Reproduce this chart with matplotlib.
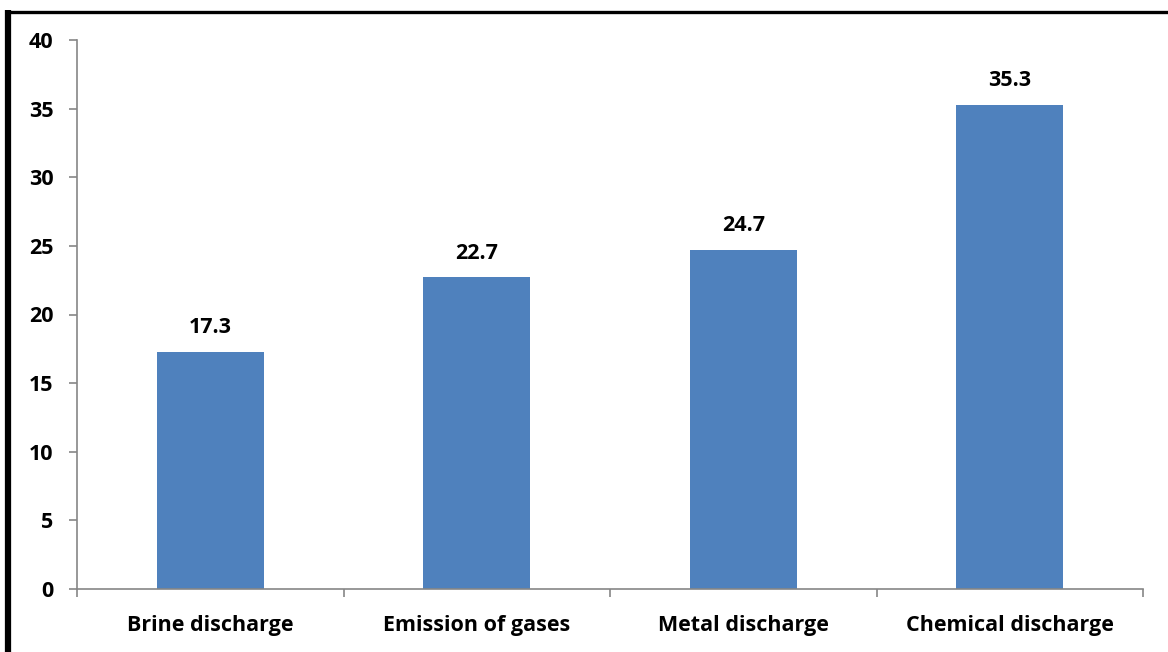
import matplotlib
matplotlib.use("Agg")
import matplotlib.pyplot as plt
from matplotlib.lines import Line2D

categories = ["Brine discharge", "Emission of gases", "Metal discharge", "Chemical discharge"]
values = [17.3, 22.7, 24.7, 35.3]
yticks = [0, 5, 10, 15, 20, 25, 30, 35, 40]

plt.rcParams["font.family"] = ["Open Sans", "DejaVu Sans"]
plt.rcParams["font.weight"] = "bold"

W, H = 1168, 652
FS = 15.5
fig = plt.figure(figsize=(W / 100, H / 100), dpi=100)
ax = fig.add_axes([77 / W, 1 - 589 / H, (1143 - 77) / W, (589 - 40) / H])

x = list(range(len(categories)))
bars = ax.bar(x, values, width=0.40, color="#4F81BD", zorder=2)
for xi, v in zip(x, values):
    ax.annotate(f"{v:.1f}", (xi, v), xytext=(0, 10), textcoords="offset points",
                ha="center", va="bottom", fontsize=FS, fontweight="bold")

ax.set_xlim(-0.5, len(categories) - 0.5)
ax.set_ylim(0, 40)
ax.set_yticks(yticks)
ax.set_yticklabels([str(t) for t in yticks], fontsize=FS, fontweight="bold")

# category labels centred, tick marks at the category boundaries
ax.set_xticks(x)
ax.set_xticklabels(categories, fontsize=FS, fontweight="bold")
ax.tick_params(axis="x", length=0, pad=19)
ax.set_xticks([i - 0.5 for i in range(len(categories) + 1)], minor=True)
ax.tick_params(axis="x", which="minor", length=6, width=1.2, color="#868686", direction="out")
ax.tick_params(axis="y", length=6, width=1.2, color="#868686", direction="out", pad=11)

for s in ["top", "right"]:
    ax.spines[s].set_visible(False)
for s in ["left", "bottom"]:
    ax.spines[s].set_color("#868686")
    ax.spines[s].set_linewidth(1.2)

# outer frame: heavy left edge and top edge
fig.add_artist(Line2D([8 / W, 8 / W], [0, 1 - 10 / H], transform=fig.transFigure,
                      color="black", linewidth=4.5, solid_capstyle="butt"))
fig.add_artist(Line2D([5 / W, 1], [1 - 11.5 / H, 1 - 11.5 / H], transform=fig.transFigure,
                      color="black", linewidth=2.4, solid_capstyle="butt"))

fig.savefig("out.png", dpi=100, facecolor="white")
